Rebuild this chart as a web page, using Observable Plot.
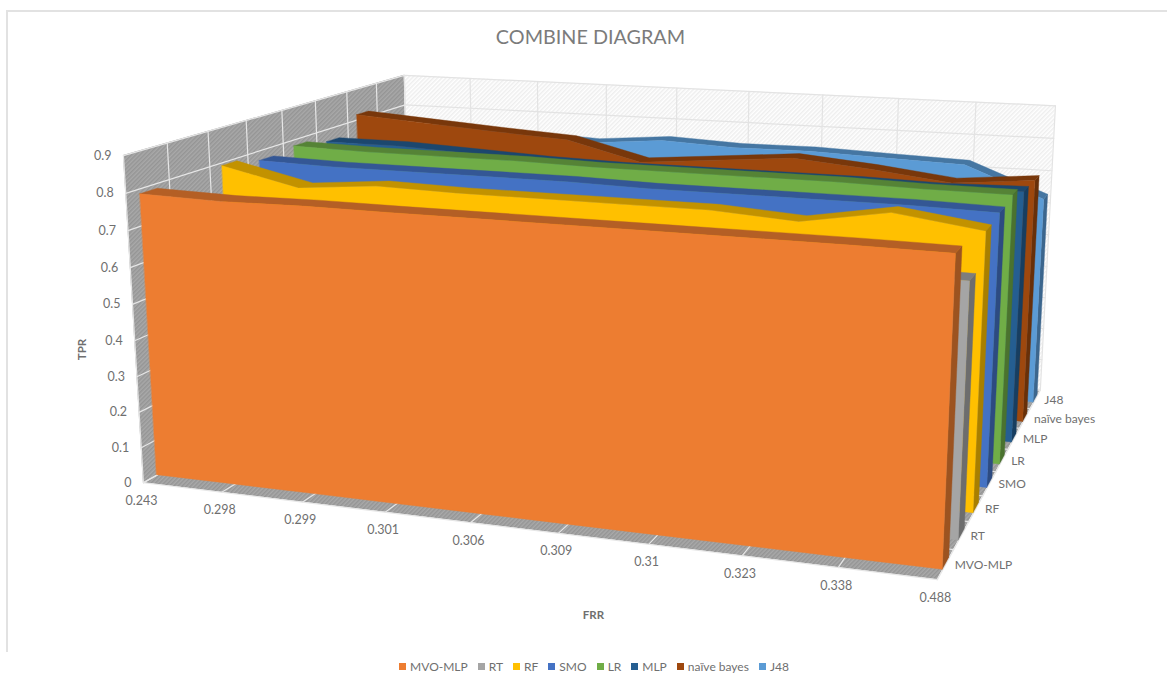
<!DOCTYPE html>
<html>
<head>
<meta charset="utf-8">
<title>Combine diagram</title>
<script src="https://cdn.jsdelivr.net/npm/d3@7"></script>
<script src="https://cdn.jsdelivr.net/npm/@observablehq/plot@0.6"></script>
<style>
  html, body { margin: 0; background: #fff; }
  #page { position: relative; width: 1167px; height: 681px; overflow: hidden; font-family: Lato, sans-serif; color: #6f6f6f; }
  #edge { position: absolute; left: 6px; top: 10px; right: 0; height: 640px; border-top: 2px solid #e2e2e2; border-left: 2px solid #e2e2e2; pointer-events: none; }
  #title { position: relative; height: 52px; box-sizing: border-box; padding: 24px 0 0 14px; text-align: center; font-size: 19.8px; line-height: 24px; color: #7b7b7b; }
  #legend { position: relative; height: 39px; box-sizing: border-box; padding-top: 10px; padding-left: 21px; display: flex; justify-content: center; gap: 10px; font-size: 12px; line-height: 15px; }
  #legend span { display: inline-flex; align-items: center; gap: 4px; }
  #legend i { width: 7px; height: 7px; display: inline-block; }
  svg { display: block; }
</style>
</head>
<body>
<div id="page">
  <div id="edge"></div>
  <div id="title">COMBINE DIAGRAM</div>
  <div id="chart"></div>
  <div id="legend"></div>
</div>
<script>
// Categories and axis labels
const frrLabels = ["0.243", "0.298", "0.299", "0.301", "0.306", "0.309", "0.31", "0.323", "0.338", "0.488"];
const tprTicks = [0, 0.1, 0.2, 0.3, 0.4, 0.5, 0.6, 0.7, 0.8, 0.9];
const methods = ["MVO-MLP", "RT", "RF", "SMO", "LR", "MLP", "naïve bayes", "J48"];
const colors = ["#ED7D31", "#A5A5A5", "#FFC000", "#4472C4", "#70AD47", "#255E91", "#9E480E", "#5B9BD5"];

// TPR per method, one value per FRR category
const mvoMlp = [0.785, 0.78, 0.783, 0.782, 0.782, 0.782, 0.782, 0.782, 0.782, 0.78];
const rt = [0.68, 0.68, 0.68, 0.68, 0.68, 0.68, 0.68, 0.67, 0.67, 0.667];
const rf = [0.79, 0.74, 0.76, 0.755, 0.755, 0.755, 0.755, 0.74, 0.78, 0.748];
const smo = [0.77, 0.765, 0.765, 0.765, 0.765, 0.76, 0.76, 0.76, 0.76, 0.755];
const lr = [0.78, 0.775, 0.775, 0.775, 0.77, 0.77, 0.77, 0.77, 0.765, 0.764];
const mlp = [0.76, 0.76, 0.75, 0.74, 0.735, 0.735, 0.735, 0.735, 0.73, 0.735];
const naiveBayes = [0.815, 0.8, 0.785, 0.772, 0.715, 0.735, 0.755, 0.735, 0.708, 0.73];
const j48 = [0.74, 0.752, 0.74, 0.73, 0.75, 0.74, 0.742, 0.734, 0.727, 0.636];
const seriesValues = [mvoMlp, rt, rf, smo, lr, mlp, naiveBayes, j48];

// Camera calibration: where the corners of the unit box (along, deep, tpr) land on the page
const boxCorners = [
  [0, 0, 0, 142, 478], [1, 0, 0, 937, 581], [0, 1, 0, 411, 337], [1, 1, 0, 1040, 387],
  [0, 0, 0.9, 123, 156], [1, 0, 0.9, 953, 210], [0, 1, 0.9, 404, 73], [1, 1, 0.9, 1054, 105]
];

// Least-squares fit of a projective camera (11 parameters) to the corners
function fitCamera(corners) {
  const A = [], B = [];
  for (const [u, d, v, px, py] of corners) {
    const x = px / 1000, y = py / 1000;
    A.push([u, d, v, 1, 0, 0, 0, 0, -x * u, -x * d, -x * v]); B.push(x);
    A.push([0, 0, 0, 0, u, d, v, 1, -y * u, -y * d, -y * v]); B.push(y);
  }
  const n = 11;
  const M = d3.range(n).map(i => d3.range(n + 1).map(j =>
    j < n ? d3.sum(A, row => row[i] * row[j]) : d3.sum(A, (row, r) => row[i] * B[r])));
  for (let c = 0; c < n; c++) {
    let p = c;
    for (let r = c + 1; r < n; r++) if (Math.abs(M[r][c]) > Math.abs(M[p][c])) p = r;
    [M[c], M[p]] = [M[p], M[c]];
    for (let r = 0; r < n; r++) {
      if (r === c) continue;
      const f = M[r][c] / M[c][c];
      for (let j = c; j <= n; j++) M[r][j] -= f * M[c][j];
    }
  }
  return M.map((row, i) => row[n] / row[i]);
}
const cam = fitCamera(boxCorners);
function project(u, d, v) {
  const w = cam[8] * u + cam[9] * d + cam[10] * v + 1;
  return [
    1000 * (cam[0] * u + cam[1] * d + cam[2] * v + cam[3]) / w,
    1000 * (cam[4] * u + cam[5] * d + cam[6] * v + cam[7]) / w
  ];
}

const shade = (color, k) => { const c = d3.rgb(color); return d3.rgb(c.r * k, c.g * k, c.b * k).formatHex(); };
const alongOf = i => i / (frrLabels.length - 1);
const topTpr = tprTicks[tprTicks.length - 1];
const slots = methods.length;

// A quad strip between two projected paths, drawn as a Plot area
function strip(pathA, pathB, fill) {
  const rows = pathA.map((a, i) => ({ xa: a[0], ya: a[1], xb: pathB[i][0], yb: pathB[i][1] }));
  return Plot.area(rows, { x1: "xa", y1: "ya", x2: "xb", y2: "yb", fill, stroke: fill.startsWith("url") ? "none" : fill, strokeWidth: 0.4 });
}

// Walls and floor
const backWall = strip([project(0, 1, 0), project(1, 1, 0)], [project(0, 1, topTpr), project(1, 1, topTpr)], "url(#backHatch)");
const leftWall = strip([project(0, 0, 0), project(0, 1, 0)], [project(0, 0, topTpr), project(0, 1, topTpr)], "url(#wallHatch)");
const floor = strip([project(0, 0, 0), project(0, 1, 0)], [project(1, 0, 0), project(1, 1, 0)], "url(#wallHatch)");

// Gridlines as segments through the projection
function gridRows(segments) {
  return segments.flatMap(([a, b], id) => [a, b].map(p => { const [x, y] = project(...p); return { x, y, id }; }));
}
const depthStops = d3.range(slots + 1).map(k => k / slots);
const backGrid = gridRows([
  ...tprTicks.map(v => [[0, 1, v], [1, 1, v]]),
  ...frrLabels.map((_, i) => [[alongOf(i), 1, 0], [alongOf(i), 1, topTpr]])
]);
const wallGrid = gridRows([
  ...tprTicks.map(v => [[0, 0, v], [0, 1, v]]),
  ...depthStops.map(d => [[0, d, 0], [0, d, topTpr]]),
  ...frrLabels.map((_, i) => [[alongOf(i), 0, 0], [alongOf(i), 1, 0]]),
  ...depthStops.map(d => [[0, d, 0], [1, d, 0]])
]);

// Each method is a thin ribbon: right end, top surface, then the front face
const ribbonFront = 0.32, ribbonBack = 0.72;
function ribbon(values, k) {
  const df = (k + ribbonFront) / slots, db = (k + ribbonBack) / slots, c = colors[k];
  const last = values.length - 1;
  const us = values.map((_, i) => alongOf(i));
  const frontBase = us.map(u => project(u, df, 0));
  const frontTop = us.map((u, i) => project(u, df, values[i]));
  const backTop = us.map((u, i) => project(u, db, values[i]));
  return [
    strip([project(1, df, 0), project(1, db, 0)], [project(1, df, values[last]), project(1, db, values[last])], shade(c, 0.66)),
    strip(frontTop, backTop, shade(c, 0.76)),
    strip(frontBase, frontTop, c)
  ];
}
const ribbons = seriesValues.map((values, k) => ribbon(values, k)).reverse().flat();

// Axis labels located through the same projection
const tprRows = tprTicks.map(v => { const [x, y] = project(0, 0, v); return { x, y, label: String(v) }; });
const frrRows = frrLabels.map((label, i) => { const [x, y] = project(alongOf(i), 0, 0); return { x, y, label }; });
const methodRows = methods.map((label, k) => { const [x, y] = project(1, (k + 0.5) / slots, 0); return { x, y, label }; });
const textColor = "#6f6f6f";

const defs = () => {
  const d = d3.create("svg:defs");
  const hatch = (id, base, line) => {
    const p = d.append("pattern").attr("id", id).attr("patternUnits", "userSpaceOnUse")
      .attr("width", 3).attr("height", 3).attr("patternTransform", "rotate(45)");
    p.append("rect").attr("width", 3).attr("height", 3).attr("fill", base);
    p.append("rect").attr("width", 1.5).attr("height", 3).attr("fill", line);
  };
  hatch("wallHatch", "#a9a9a9", "#959595");
  hatch("backHatch", "#ffffff", "#eeeeee");
  return d.node();
};

const chart = Plot.plot({
  width: 1167,
  height: 590,
  margin: 0,
  x: { domain: [0, 1167], range: [0, 1167], axis: null },
  y: { domain: [642, 52], range: [590, 0], axis: null },
  style: { background: "none", overflow: "visible" },
  marks: [
    defs,
    backWall, leftWall, floor,
    Plot.line(backGrid, { x: "x", y: "y", z: "id", stroke: "#e3e3e3", strokeWidth: 1.2 }),
    Plot.line(wallGrid, { x: "x", y: "y", z: "id", stroke: "#e6e6e6", strokeWidth: 1.2 }),
    ...ribbons,
    Plot.text(tprRows, { x: "x", y: "y", text: "label", textAnchor: "end", dx: -12, dy: 0, fontSize: 12.5, fontFamily: "Lato", fill: textColor }),
    Plot.text(frrRows, { x: "x", y: "y", text: "label", dx: -2, dy: 18, fontSize: 12.5, fontFamily: "Lato", fill: textColor }),
    Plot.text(methodRows, { x: "x", y: "y", text: "label", textAnchor: "start", dx: 9, dy: 1, fontSize: 12, fontFamily: "Lato", fill: textColor }),
    Plot.text(["TPR"], { x: 82, y: 349, text: d => d, rotate: -90, fontSize: 11.5, fontWeight: "bold", fontFamily: "Lato", fill: textColor }),
    Plot.text(["FRR"], { x: 593, y: 615, text: d => d, fontSize: 11.5, fontWeight: "bold", fontFamily: "Lato", fill: textColor })
  ]
});
document.getElementById("chart").append(chart);

// Legend row under the chart
const legend = d3.select("#legend");
methods.forEach((name, k) => {
  const item = legend.append("span");
  item.append("i").style("background", colors[k]);
  item.append("b").style("font-weight", "normal").text(name);
});
</script>
</body>
</html>
